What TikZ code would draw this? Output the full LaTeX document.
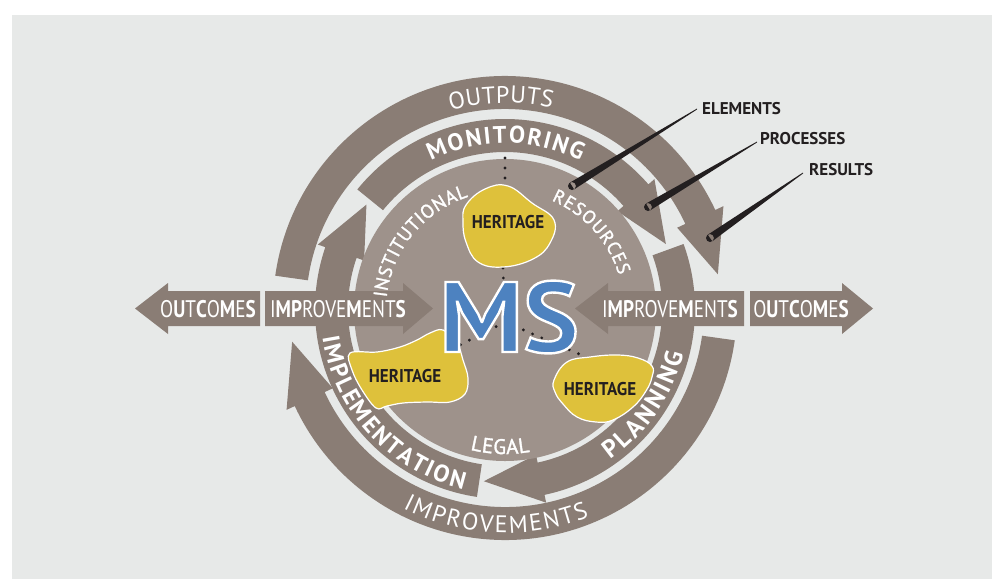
\documentclass[tikz,border=0pt]{standalone}
\usepackage{fontspec}
\setmainfont{PT Sans}
\setsansfont{PT Sans}
\newfontfamily\arrfont[FakeStretch=0.8]{PT Sans}
\newfontfamily\herfont[FakeStretch=0.92]{PT Sans}
\newfontfamily\msfont[FakeStretch=1.05]{PT Sans Bold}
\newfontfamily\medfont[FakeBold=1.5]{PT Sans}
\usetikzlibrary{decorations.text,calc}
\definecolor{bg}{HTML}{E7E9E8}
\definecolor{band}{HTML}{8A7D75}
\definecolor{disk}{HTML}{9E928B}
\definecolor{herit}{HTML}{DEC13B}
\definecolor{msblue}{HTML}{4D82C0}
\definecolor{ink}{HTML}{231F20}
\newcommand\ringarrow[7]{%
 \begin{scope}[shift={#1}]
 \fill[band] ({#4}:{#3}) arc[start angle=#4, end angle=#5, radius=#3pt]
   -- ({#5}:{#3+#7}) -- ({#6}:{(#2+#3)/2}) -- ({#5}:{#2-#7})
   -- ({#5}:{#2}) arc[start angle=#5, end angle=#4, radius=#2pt] -- cycle;
 \end{scope}}
\newcommand\arctext[5]{%
 \path[decorate, decoration={text along path, text align=fit to path, text color=white, text={#5}}]
  ([shift={({#3}:{#2})}]#1) arc[start angle=#3, end angle=#4, radius=#2pt];}
\newcommand\pointer[2]{%
 \fill[ink] let \p1=(#1), \p2=(#2), \n1={atan2(\y1-\y2,\x1-\x2)} in
  ($(\p2)+({\n1+90}:4)$) -- ($(\p1)+({\n1+90}:0.4)$) -- ($(\p1)+({\n1-90}:0.4)$)
  -- ($(\p2)+({\n1-90}:4)$) -- cycle (\p2) circle[radius=4pt];}
\newcommand\outlinedtext[1]{\special{pdf:code 2 Tr 2.4 w 1 1 1 RG}#1\special{pdf:code 0 Tr}}
\tikzset{
 harrow/.style={fill=band},
 arrtext/.style={anchor=base, inner sep=0, text=white, font=\arrfont\fontsize{24}{24}\selectfont},
 blob/.style={fill=herit, draw=white, line width=1.2pt},
 hertext/.style={anchor=base, inner sep=0, text=ink, font=\herfont\bfseries\fontsize{18.5}{18.5}\selectfont},
 msstyle/.style={anchor=base, inner sep=0, font=\msfont\fontsize{100}{100}\selectfont},
 dots/.style={ink, line width=3.2pt, line cap=round, dash pattern=on 0pt off 10pt},
 label/.style={anchor=base west, inner sep=0, text=ink, font=\bfseries\fontsize{17}{17}\selectfont}
}
\begin{document}
\begin{tikzpicture}[x=1pt,y=1pt]
\useasboundingbox (0,0) rectangle (992,-579);
\fill[white] (0,0) rectangle (992,-579);
\fill[bg] (12,-15) rectangle (992,-579);
\coordinate (O2) at (505,-308);
\coordinate (O1) at (505,-309);
\coordinate (O0) at (505,-310);
% outer ring
\ringarrow{(O2)}{199}{232}{172}{25}{9}{9}
\ringarrow{(O2)}{199}{232}{-8}{-155}{-171}{9}
% middle ring
\ringarrow{(O1)}{157}{190}{141}{41}{22}{8}
\ringarrow{(O1)}{157}{190}{20}{-78}{-97}{8}
\ringarrow{(O1)}{157}{190}{261.5}{161}{143}{8}
% disk
\fill[disk] (O0) circle[radius=151pt];
% dotted connections
\coordinate (dc) at (505,-322);
\draw[dots] (505,-158) -- (505,-181);
\draw[dots] (503,-268) -- (dc);
\draw[dots] (dc) -- (458,-346);
\draw[dots] (dc) -- (586,-357);
% heritage blobs
\filldraw[blob] plot[smooth cycle, tension=0.7] coordinates {(466,-205) (485,-189) (508,-186) (532,-203) (554,-220) (550,-243) (533,-259) (503,-267) (478,-262) (466,-242) (463,-222)};
\filldraw[blob] plot[smooth cycle, tension=0.6] coordinates {(350,-353) (377,-352) (400,-347) (417,-340) (430,-333) (443,-330) (457,-343) (463,-360) (468,-378) (465,-394) (450,-402) (427,-402) (403,-403) (387,-406) (376,-408) (362,-390) (352,-370)};
\filldraw[blob] plot[smooth cycle, tension=0.7] coordinates {(554,-380) (567,-362) (590,-357) (617,-355) (638,-358) (652,-366) (652,-377) (646,-391) (633,-407) (613,-420) (596,-422) (577,-417) (563,-404) (555,-392)};
\node[hertext] (h1) at (508,-228) {HERITAGE};
\node[hertext] (h2) at (405,-382) {HERITAGE};
\node[hertext] (h3) at (600,-395) {HERITAGE};
% MS
\node[msstyle, text=msblue] (ms) at (509,-352) {\outlinedtext{MS}};
% horizontal arrows
\fill[harrow] (260,-291) -- (168,-291) -- (168,-283) -- (135,-308.5) -- (168,-334) -- (168,-326) -- (260,-326) -- cycle;
\fill[harrow] (265,-291) -- (403,-291) -- (403,-283) -- (433,-308.5) -- (403,-334) -- (403,-326) -- (265,-326) -- cycle;
\fill[harrow] (744,-291) -- (608,-291) -- (608,-283) -- (575,-308.5) -- (608,-334) -- (608,-326) -- (744,-326) -- cycle;
\fill[harrow] (750,-291) -- (842,-291) -- (842,-283) -- (873,-308.5) -- (842,-334) -- (842,-326) -- (750,-326) -- cycle;
\node[arrtext] (oc1) at (208,-317) {O\textbf{U}T\textbf{C}O\textbf{M}E\textbf{S}};
\node[arrtext] (im1) at (338,-317) {I\textbf{MP}ROVE\textbf{M}ENT\textbf{S}};
\node[arrtext] (im2) at (670,-317) {I\textbf{MP}ROVE\textbf{M}ENT\textbf{S}};
\node[arrtext] (oc2) at (801,-317) {O\textbf{U}T\textbf{C}O\textbf{M}E\textbf{S}};
% curved texts
\arctext{O2}{205}{105.4}{76.8}{|\fontsize{24}{24}\selectfont|OUTPUTS}
\arctext{O1}{166}{116.5}{63}{|\fontsize{24}{24}\selectfont\bfseries|MONITORING}
\arctext{O0}{119}{174}{108}{|\medfont\fontsize{19}{19}\selectfont|INSTITUTIONAL}
\arctext{O0}{119}{67}{17}{|\medfont\fontsize{18.5}{19}\selectfont|RESOURCES}
\arctext{O0}{144}{256}{280}{|\medfont\fontsize{21}{21}\selectfont|LEGAL}
\arctext{O1}{184}{-55}{-14}{|\fontsize{25}{25}\selectfont\bfseries|PLANNING}
\arctext{O1}{185}{189}{257}{|\fontsize{24}{24}\selectfont\bfseries|IMPLEMENTATION}
\arctext{O2}{225}{243}{292}{|\fontsize{24}{24}\selectfont|IMPROVEMENTS}
% pointers
\coordinate (e1) at (697,-109); \coordinate (e2) at (572,-186);
\coordinate (p1) at (757,-142); \coordinate (p2) at (648,-207);
\coordinate (r1) at (803,-173); \coordinate (r2) at (710,-238);
\pointer{e1}{e2}
\pointer{p1}{p2}
\pointer{r1}{r2}
\node[label] (le) at (702,-114) {ELEMENTS};
\node[label] (lp) at (760,-144) {PROCESSES};
\node[label] (lr) at (809,-175) {RESULTS};
\end{tikzpicture}
\end{document}
